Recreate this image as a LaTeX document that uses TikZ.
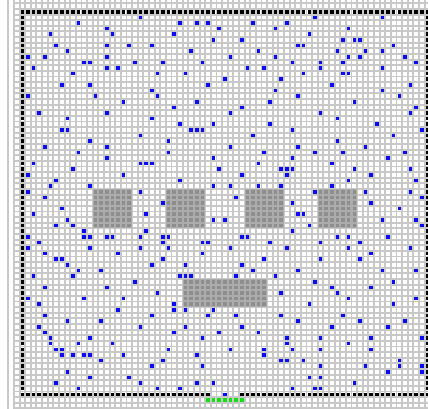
\documentclass[tikz,border=0pt]{standalone}
\usepackage{xcolor}
\usepackage{tikz}
\definecolor{gapgray}{RGB}{200,200,200}
\definecolor{blockgap}{RGB}{172,172,172}
\definecolor{blockgray}{RGB}{142,142,142}
\definecolor{agentblue}{RGB}{12,12,242}
\definecolor{goalgreen}{RGB}{20,225,20}
\newcommand{\gridcell}[3]{\fill[#1] ({#2-\hs},{#3-\hs}) rectangle ({#2+\hs},{#3+\hs});}

\begin{document}
\begin{tikzpicture}[x=0.2cm,y=-0.2cm]
  % one cell = one unit, rows counted downwards
  \def\hs{0.32}
  \useasboundingbox (-2.98,-1.09) rectangle (73.1,71.44);
  \clip (-2.98,-1.09) rectangle (73.1,71.44);

  % Background grid (white cells, gray gaps)
  \fill[white] (-0.5,-2) rectangle (75,73);
  \foreach \k in {-2,...,74}{
    \draw[gapgray, line width=0.068cm] (\k+0.5,-2) -- (\k+0.5,73);
  }
  \foreach \k in {-3,...,72}{
    \draw[gapgray, line width=0.068cm] (-0.5,\k+0.5) -- (75,\k+0.5);
  }

  % Walls
  \foreach \c in {1,...,73}{
    \gridcell{black}{\c}{1}
  }
  \foreach \r in {2,...,68}{
    \gridcell{black}{1}{\r}
    \gridcell{black}{73}{\r}
  }
  \foreach \c in {1,...,34,40,41,...,73}{
    \gridcell{black}{\c}{69}
  }

  % Obstacles: left col / top row / width / height
  \foreach \x/\y/\w/\h in {14/33/7/7, 27/33/7/7, 41/33/7/7, 54/33/7/7, 30/49/15/5}{
    \fill[blockgap] (\x-0.5,\y-0.5) rectangle (\x+\w-0.5,\y+\h-0.5);
    \foreach \i in {1,...,\w}{
      \foreach \j in {1,...,\h}{
        \gridcell{blockgray}{\x+\i-1}{\y+\j-1}
      }
    }
  }

  % Goal cells
  \foreach \c in {34,...,40}{
    \gridcell{goalgreen}{\c}{70}
  }

  % Agents (col/row)
  \foreach \c/\r in {
    11/3, 16/4, 6/5, 17/5, 7/7, 16/7, 9/8, 2/9, 5/9, 16/9, 12/10, 13/10, 3/11, 16/11, 18/11, 10/12,
    65/2, 59/4, 58/6, 60/6, 61/6, 67/7, 57/8, 62/8, 65/8, 59/9, 61/9, 69/9, 54/10, 58/10, 71/10,
    54/11, 65/11, 58/12, 59/12,
    6/60, 11/60, 17/60, 7/61, 8/61, 8/62, 10/62, 12/62, 13/62, 15/63, 9/65, 13/66, 7/67, 11/68,
    38/61, 32/62, 44/61, 44/62, 48/60, 49/61, 47/63, 48/63, 33/64, 29/68, 32/67, 35/67, 49/68, 37/69,
    59/60, 54/61, 63/61, 68/63, 54/64, 62/64, 68/64, 72/64, 66/65, 72/65, 54/66, 60/67, 54/68,
    13/32, 22/33, 26/35, 23/37, 23/40, 12/40, 12/41, 13/41, 16/41, 17/41, 22/41, 26/41, 27/41,
    26/42, 35/38, 33/42, 34/42, 35/32,
    29/48, 30/48, 31/48, 39/48, 42/47, 46/48, 28/53, 28/54, 30/54, 35/54, 34/55, 39/55,
    20/7, 22/2, 24/7, 25/12, 26/10, 28/5, 29/3, 31/8, 32/3, 33/10, 34/3, 35/6, 36/4, 38/9, 37/13,
    40/6, 41/11, 42/3, 43/8, 44/11, 46/4, 46/9, 47/13, 48/3, 49/10, 50/7, 51/7, 51/12, 52/5,
    53/2, 21/10, 30/12,
    8/14, 13/14, 24/15, 34/14, 46/15, 56/14, 65/15, 70/14,
    2/16, 14/16, 19/17, 25/16, 32/17, 40/18, 50/16, 60/17, 68/16, 71/18, 28/18, 45/17,
    4/19, 9/20, 16/19, 24/20, 29/21, 38/19, 45/21, 54/19, 57/20, 64/21, 70/19, 35/21,
    8/22, 9/22, 22/23, 31/22, 32/22, 33/22, 42/23, 49/22, 57/24, 67/23, 72/22, 13/24, 27/24,
    5/25, 16/25, 27/26, 38/25, 44/26, 50/25, 58/26, 62/25, 69/26, 11/26, 53/26,
    16/27, 22/28, 23/28, 24/28, 35/27, 43/28, 49/27, 56/28, 66/27, 70/29, 3/28, 60/29,
    2/30, 10/29, 19/30, 29/31, 40/30, 47/29, 48/29, 49/29, 48/30, 59/31, 63/30, 71/31, 7/31, 36/29,
    2/33, 5/34, 8/36, 9/38, 10/39, 7/39, 2/41, 4/42, 6/32, 3/37,
    39/34, 37/38, 40/41, 38/32,
    50/37, 51/37, 49/35, 53/33, 49/40, 52/39,
    62/33, 63/35, 68/36, 71/38, 72/39, 66/41, 61/42, 70/33, 65/38, 72/34,
    41/41, 45/42, 54/42, 57/41, 59/41, 43/32, 56/32, 47/32,
    2/43, 5/44, 7/45, 8/45, 9/46, 13/43, 18/44, 22/43, 15/47, 24/46, 3/48, 5/50, 10/48, 16/50,
    21/49, 25/51, 2/52, 4/53, 12/52, 18/54, 5/55, 4/57, 5/58, 9/56, 15/56, 22/57, 24/55, 6/59,
    13/59, 19/52, 11/47, 26/45,
    30/57, 36/58, 43/58, 33/59, 40/57, 27/43, 33/44, 38/43, 44/45, 30/46, 40/46, 28/58,
    48/43, 54/45, 59/43, 63/44, 70/43, 50/47, 56/50, 57/51, 59/52, 63/50, 67/49, 71/47, 47/51,
    52/53, 71/52, 69/56, 66/57, 61/56, 56/57, 50/56, 48/59, 72/59, 63/59, 58/55, 67/53, 47/55,
    54/59, 65/47, 53/49, 61/45,
    19/62, 24/64, 22/67, 26/63, 25/68, 51/63, 52/66, 53/68, 20/66, 27/61%
  }{
    \gridcell{agentblue}{\c}{\r}
  }
\end{tikzpicture}
\end{document}
